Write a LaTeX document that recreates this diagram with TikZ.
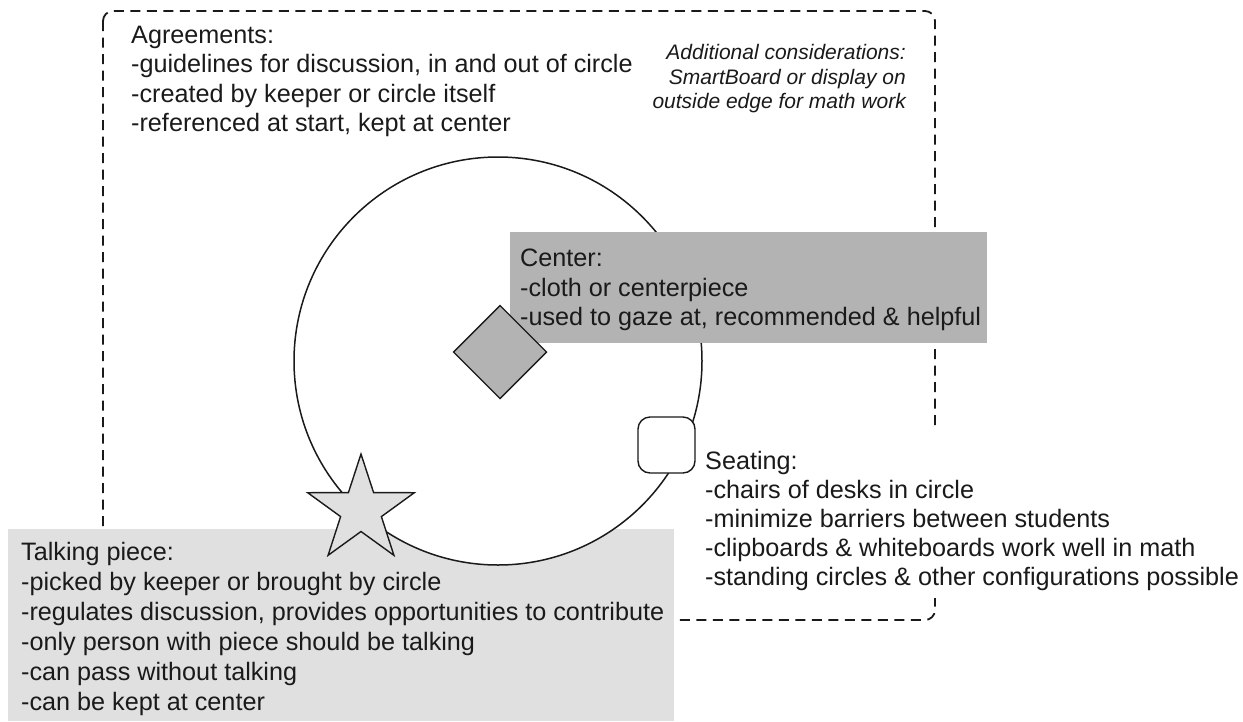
\documentclass[tikz,border=0pt]{standalone}
\usepackage{fontspec}
\setmainfont{Liberation Sans}
\definecolor{centergray}{HTML}{B3B3B3}
\definecolor{talkgray}{HTML}{E0E0E0}
\definecolor{ink}{HTML}{1A1A1A}
\newcommand{\txtbig}{\fontsize{25.2}{29.5}\selectfont}
\newcommand{\txtit}{\fontsize{21}{24.5}\selectfont\itshape}

\begin{document}
\begin{tikzpicture}[x=1pt,y=-1pt,
  txt/.style={inner sep=0pt,anchor=base west,font=\txtbig,text=ink},
  itxt/.style={inner sep=0pt,anchor=base east,font=\txtit,text=ink}]
  \useasboundingbox (0,0) rectangle (1243,721);
  \draw[ink,line width=1.8pt,dash pattern=on 10pt off 6.5pt,rounded corners=10pt]
   (103,11) rectangle (935,620);
  \fill[talkgray] (8,529) rectangle (674,721);
  \draw[ink,line width=1.5pt,fill=white] (498,361) circle[radius=204pt];
  \fill[centergray] (510,232) rectangle (987,343);
  \filldraw[line width=1.4pt,draw=ink,fill=centergray]
   (500,305.5) -- (546.5,352) -- (500,398.5) -- (453.5,352) -- cycle;
  \filldraw[line width=1.4pt,draw=ink,fill=white,rounded corners=12pt]
   (638,417) rectangle (695,473);
  \filldraw[line width=1.4pt,draw=ink,fill=talkgray]
   (361,454) -- (373.6,492.6) -- (414.3,492.7) -- (381.4,516.6) -- (393.9,555.3)
   -- (361,531.5) -- (328.1,555.3) -- (340.6,516.6) -- (307.7,492.7)
   -- (348.4,492.6) -- cycle;
  \fill[white] (698,428) rectangle (1243,598);
  \node[txt] (agree1) at (131,43.3)  {Agreements:};
  \node[txt] (agree2) at (131,72.8)  {-guidelines for discussion, in and out of circle};
  \node[txt] (agree3) at (131,102.3) {-created by keeper or circle itself};
  \node[txt] (agree4) at (131,131.3) {-referenced at start, kept at center};
  \node[itxt] (extra1) at (906,59.5) {Additional considerations:};
  \node[itxt] (extra2) at (906,84)   {SmartBoard or display on};
  \node[itxt] (extra3) at (906,108.5){outside edge for math work};
  \node[txt] (center1) at (520,266.7) {Center:};
  \node[txt] (center2) at (520,296.2) {-cloth or centerpiece};
  \node[txt] (center3) at (520,325.2) {-used to gaze at, recommended \& helpful};
  \node[txt] (seat1) at (705,469) {Seating:};
  \node[txt] (seat2) at (705,498) {-chairs of desks in circle};
  \node[txt] (seat3) at (705,527) {-minimize barriers between students};
  \node[txt] (seat4) at (705,556) {-clipboards \& whiteboards work well in math};
  \node[txt] (seat5) at (705,585) {-standing circles \& other configurations possible};
  \node[txt] (talk1) at (21,560) {Talking piece:};
  \node[txt] (talk2) at (21,590) {-picked by keeper or brought by circle};
  \node[txt] (talk3) at (21,620) {-regulates discussion, provides opportunities to contribute};
  \node[txt] (talk4) at (21,650) {-only person with piece should be talking};
  \node[txt] (talk5) at (21,680) {-can pass without talking};
  \node[txt] (talk6) at (21,710) {-can be kept at center};
\end{tikzpicture}
\end{document}
